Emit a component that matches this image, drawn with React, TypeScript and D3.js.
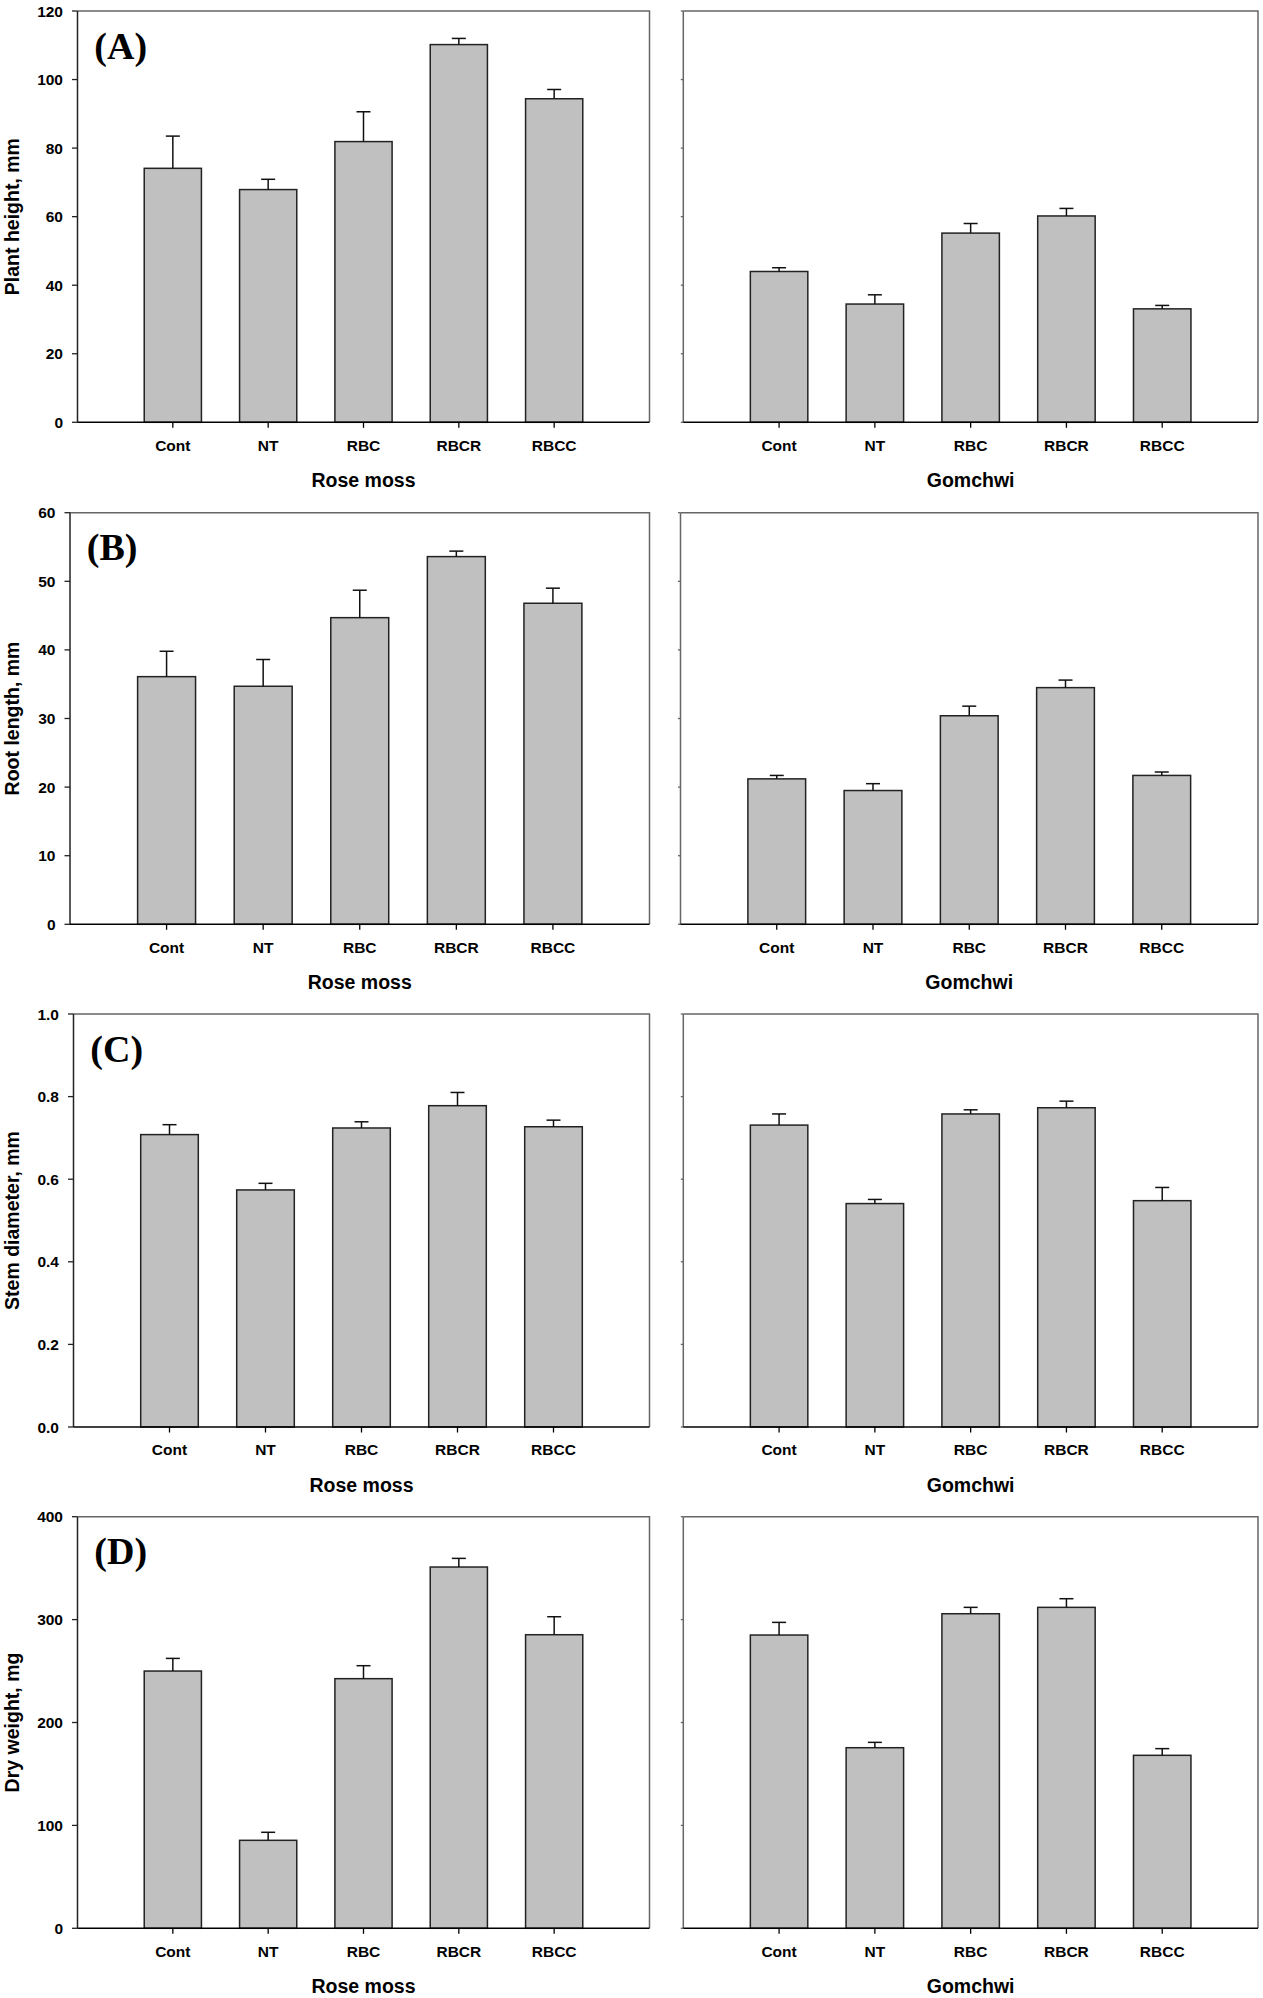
import * as d3 from "d3";
import React from "react";

const categories = ["Cont", "NT", "RBC", "RBCR", "RBCC"];

// (A) plant height, mm
const heightRose = [74.1, 67.9, 81.9, 110.2, 94.4];
const heightRoseErr = [9.4, 3.0, 8.7, 1.8, 2.7];
const heightGom = [44.0, 34.5, 55.2, 60.2, 33.1];
const heightGomErr = [1.1, 2.7, 2.8, 2.2, 1.0];
const heightTicks = [0, 20, 40, 60, 80, 100, 120];

// (B) root length, mm
const rootRose = [36.1, 34.7, 44.7, 53.6, 46.8];
const rootRoseErr = [3.7, 3.9, 4.0, 0.8, 2.2];
const rootGom = [21.2, 19.5, 30.4, 34.5, 21.7];
const rootGomErr = [0.5, 1.0, 1.4, 1.1, 0.5];
const rootTicks = [0, 10, 20, 30, 40, 50, 60];

// (C) stem diameter, mm
const stemRose = [0.708, 0.574, 0.724, 0.778, 0.727];
const stemRoseErr = [0.024, 0.016, 0.015, 0.032, 0.016];
const stemGom = [0.731, 0.541, 0.758, 0.773, 0.548];
const stemGomErr = [0.027, 0.01, 0.01, 0.016, 0.032];
const stemTicks = [0, 0.2, 0.4, 0.6, 0.8, 1.0];

// (D) dry weight, mg
const dryRose = [250.0, 85.5, 242.6, 351.1, 285.3];
const dryRoseErr = [12.3, 7.8, 12.6, 8.4, 17.5];
const dryGom = [285.0, 175.5, 305.7, 311.9, 168.1];
const dryGomErr = [12.3, 5.2, 6.2, 8.4, 6.5];
const dryTicks = [0, 100, 200, 300, 400];

const rows = [
    { tag: "(A)", title: "Plant height, mm", ticks: heightTicks, fmt: d3.format("d"),
      rose: heightRose, roseErr: heightRoseErr, gom: heightGom, gomErr: heightGomErr,
      top: 11, bottom: 422.3, leftX: 77.5, rightX: 683.3 },
    { tag: "(B)", title: "Root length, mm", ticks: rootTicks, fmt: d3.format("d"),
      rose: rootRose, roseErr: rootRoseErr, gom: rootGom, gomErr: rootGomErr,
      top: 512.7, bottom: 924.3, leftX: 70, rightX: 680.5 },
    { tag: "(C)", title: "Stem diameter, mm", ticks: stemTicks, fmt: d3.format(".1f"),
      rose: stemRose, roseErr: stemRoseErr, gom: stemGom, gomErr: stemGomErr,
      top: 1014, bottom: 1427, leftX: 73.5, rightX: 683.3 },
    { tag: "(D)", title: "Dry weight, mg", ticks: dryTicks, fmt: d3.format("d"),
      rose: dryRose, roseErr: dryRoseErr, gom: dryGom, gomErr: dryGomErr,
      top: 1516.7, bottom: 1928.3, leftX: 77.5, rightX: 683.3 },
];

const font = "'Liberation Sans', Arial, sans-serif";
const leftEnd = 649.5;
const rightEnd = 1258;

function BarPanel({ x0, x1, top, bottom, ticks, fmt, values, errors, xTitle, yTitle, tag, showLabels }) {
    const xScale = d3
        .scaleBand()
        .domain(categories)
        .range([x0, x1])
        .paddingInner(0.4)
        .paddingOuter(0.7);

    const yScale = d3
        .scaleLinear()
        .domain([0, ticks[ticks.length - 1]])
        .range([bottom, top]);

    const bw = xScale.bandwidth();
    const cap = 7;
    const axisColor = showLabels ? "#222" : "#666";
    const tickLen = showLabels ? 5.5 : 2.5;

    return (
        <g>
            {/* frame top + right */}
            <path d={`M${x0},${top}H${x1}V${bottom}`} fill="none" stroke="#666" strokeWidth={1.5} />

            {/* bars + error bars */}
            {categories.map((c, i) => {
                const bx = xScale(c) || 0;
                const cx = bx + bw / 2;
                const yv = yScale(values[i]);
                const ye = yScale(values[i] + errors[i]);
                return (
                    <g key={c}>
                        <rect x={bx} y={yv} width={bw} height={bottom - yv}
                            fill="#c0c0c0" stroke="#222" strokeWidth={1.5} />
                        <line x1={cx} x2={cx} y1={yv} y2={ye} stroke="#111" strokeWidth={1.5} />
                        <line x1={cx - cap} x2={cx + cap} y1={ye} y2={ye} stroke="#111" strokeWidth={1.5} />
                    </g>
                );
            })}

            {/* y axis */}
            <line x1={x0} x2={x0} y1={top} y2={bottom} stroke={axisColor} strokeWidth={1.5} />
            {ticks.map((t) => (
                <g key={t}>
                    <line x1={x0 - tickLen} x2={x0} y1={yScale(t)} y2={yScale(t)} stroke={axisColor} strokeWidth={1.3} />
                    {showLabels &&
                        <text x={x0 - 14.5} y={yScale(t)} dy="0.36em" textAnchor="end"
                            fontFamily={font} fontWeight="bold" fontSize={15.5}>{fmt(t)}</text>}
                </g>
            ))}

            {/* x axis */}
            <line x1={x0} x2={x1} y1={bottom} y2={bottom} stroke="#000" strokeWidth={1.6} />
            {categories.map((c) => {
                const cx = (xScale(c) || 0) + bw / 2;
                return (
                    <g key={c}>
                        <line x1={cx} x2={cx} y1={bottom} y2={bottom + 5.5} stroke="#000" strokeWidth={1.3} />
                        <text x={cx} y={bottom + 28.4} textAnchor="middle"
                            fontFamily={font} fontWeight="bold" fontSize={15.5}>{c}</text>
                    </g>
                );
            })}
            <text x={(x0 + x1) / 2} y={bottom + 65} textAnchor="middle"
                fontFamily={font} fontWeight="bold" fontSize={19.5}>{xTitle}</text>

            {showLabels &&
                <text transform={`translate(19, ${(top + bottom) / 2}) rotate(-90)`} textAnchor="middle"
                    fontFamily={font} fontWeight="bold" fontSize={19.5}>{yTitle}</text>}
            {tag &&
                <text x={x0 + 16.8} y={top + 47.5}
                    fontFamily="'Liberation Serif', 'Times New Roman', serif" fontWeight="bold" fontSize={38}>{tag}</text>}
        </g>
    );
}

export default function App() {
    return (
        <div style={{ position: "absolute", left: 0, top: 0 }}>
            <svg width={1263} height={1998} style={{ display: "block", background: "#fff" }}>
                {rows.map((r) => (
                    <g key={r.tag}>
                        <BarPanel x0={r.leftX} x1={leftEnd} top={r.top} bottom={r.bottom}
                            ticks={r.ticks} fmt={r.fmt} values={r.rose} errors={r.roseErr}
                            xTitle="Rose moss" yTitle={r.title} tag={r.tag} showLabels={true} />
                        <BarPanel x0={r.rightX} x1={rightEnd} top={r.top} bottom={r.bottom}
                            ticks={r.ticks} fmt={r.fmt} values={r.gom} errors={r.gomErr}
                            xTitle="Gomchwi" yTitle="" tag="" showLabels={false} />
                    </g>
                ))}
            </svg>
        </div>
    );
}
